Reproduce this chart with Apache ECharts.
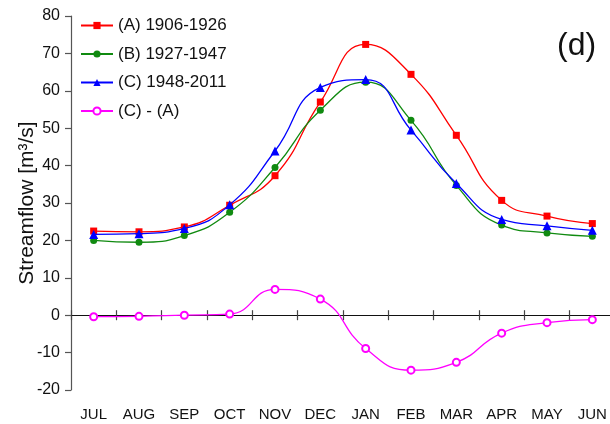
<!DOCTYPE html>
<html>
<head>
<meta charset="utf-8">
<script src="https://cdn.jsdelivr.net/npm/echarts@6/dist/echarts.min.js"></script>
<style>
html,body{margin:0;padding:0;background:#fff;}
#chart{width:610px;height:424px;}
</style>
</head>
<body>
<div id="chart"></div>
<script>
var months = ['JUL','AUG','SEP','OCT','NOV','DEC','JAN','FEB','MAR','APR','MAY','JUN'];
var seriesA = [22.5, 22.3, 23.6, 29.4, 37.3, 57.0, 72.4, 64.4, 48.1, 30.7, 26.5, 24.5];
var seriesB = [20.0, 19.5, 21.3, 27.5, 39.5, 54.8, 62.3, 52.1, 34.7, 24.1, 22.0, 21.1];
var seriesC = [21.6, 21.8, 23.2, 29.5, 43.9, 60.9, 63.0, 49.5, 35.2, 25.6, 23.9, 22.7];
var seriesDiff = [-0.4, -0.3, 0.0, 0.3, 6.9, 4.3, -8.9, -14.7, -12.6, -4.8, -2.0, -1.2];
var yTicks = {min: -20, max: 80, interval: 10};
var names = ['(A) 1906-1926', '(B) 1927-1947', '(C) 1948-2011', '(C) - (A)'];

var FONT = '"Liberation Sans", Arial, sans-serif';
var chart = echarts.init(document.getElementById('chart'), null, {renderer: 'canvas'});

function mkSeries(name, data, color, symbol, size, z) {
  return {
    name: name, type: 'line', data: data, smooth: 0.5,
    xAxisIndex: 0, yAxisIndex: 0,
    symbol: symbol, symbolSize: size, showAllSymbol: true,
    lineStyle: {color: color, width: 1.3},
    itemStyle: {color: color, borderColor: color, borderWidth: symbol === 'emptyCircle' ? 1.3 : 0},
    z: z, animation: false
  };
}

chart.setOption({
  animation: false,
  backgroundColor: '#fff',
  textStyle: {fontFamily: FONT},
  grid: {left: 71, top: 16, width: 544, height: 374, containLabel: false, outerBoundsMode: 'none'},
  legend: {
    orient: 'vertical', left: 75, top: 12,
    itemWidth: 32, itemHeight: 9, itemGap: 11.5,
    textStyle: {fontFamily: FONT, fontSize: 17, color: '#111'},
    data: names
  },
  graphic: [{
    type: 'text', left: 557, top: 30,
    style: {text: '(d)', font: '32px ' + FONT, fill: '#111'}
  }],
  xAxis: [{
    type: 'category', data: months, boundaryGap: true,
    axisLine: {show: false, onZero: false},
    axisTick: {show: false},
    axisLabel: {fontFamily: FONT, fontSize: 15, color: '#111', margin: 17},
    splitLine: {show: false}
  }, {
    type: 'category', data: months, boundaryGap: true, position: 'bottom',
    axisLine: {show: true, onZero: true, onZeroAxisIndex: 0, lineStyle: {color: '#111', width: 1.2}},
    axisTick: {show: true, inside: false, length: 5, lineStyle: {color: '#444', width: 1.2}},
    axisLabel: {show: false}, splitLine: {show: false}
  }, {
    type: 'category', data: months, boundaryGap: true, position: 'bottom',
    axisLine: {show: false, onZero: true, onZeroAxisIndex: 1},
    axisTick: {show: true, inside: true, length: 5, lineStyle: {color: '#444', width: 1.2}},
    axisLabel: {show: false}, splitLine: {show: false}
  }],
  yAxis: [{
    type: 'value', min: yTicks.min, max: yTicks.max, interval: yTicks.interval,
    name: 'Streamflow [m³/s]', nameLocation: 'middle', nameGap: 33, nameMoveOverlap: false,
    nameTextStyle: {fontFamily: FONT, fontSize: 21, color: '#111'},
    axisLine: {show: true, onZero: false, lineStyle: {color: '#555', width: 1.2}},
    axisTick: {show: true, length: 6, lineStyle: {color: '#555', width: 1.2}},
    axisLabel: {fontFamily: FONT, fontSize: 16, color: '#111', margin: 11},
    splitLine: {show: false}
  }, {
    type: 'value', min: yTicks.min, max: yTicks.max, interval: yTicks.interval,
    position: 'left',
    axisLine: {show: false, onZero: false}, axisTick: {show: false},
    axisLabel: {show: false}, splitLine: {show: false}
  }],
  series: [
    mkSeries(names[0], seriesA, '#ff0000', 'rect', 7, 3),
    mkSeries(names[1], seriesB, '#108a10', 'circle', 7, 4),
    mkSeries(names[2], seriesC, '#0000ff', 'triangle', 9, 5),
    mkSeries(names[3], seriesDiff, '#ff00ff', 'emptyCircle', 7, 6)
  ]
});
</script>
</body>
</html>
